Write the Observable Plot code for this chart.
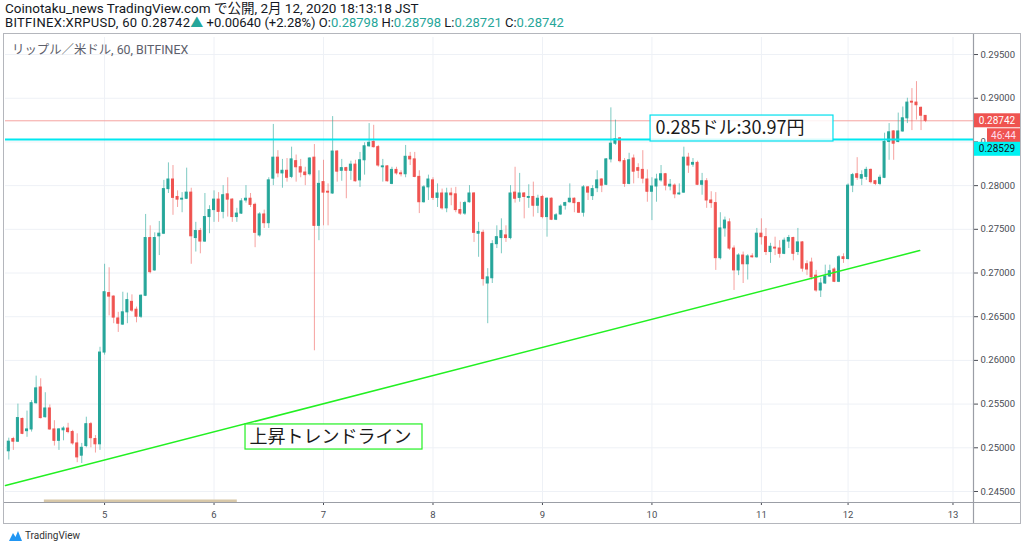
<!DOCTYPE html>
<html><head><meta charset="utf-8">
<script src="https://cdn.jsdelivr.net/npm/d3@7"></script>
<script src="https://cdn.jsdelivr.net/npm/@observablehq/plot@0.6"></script>
<style>
body{margin:0;background:#fff;width:1024px;height:552px;overflow:hidden;position:relative;font-family:Roboto,"Noto Sans CJK JP",sans-serif;}
#hdr{position:absolute;left:5px;top:1px;font-size:13px;line-height:14px;color:#131722;white-space:nowrap;}
#hdr .l1{font-size:13.5px;}
#hdr .l2a{letter-spacing:0.3px;}
#hdr .up{color:#26a69a}
#chart{position:absolute;left:0;top:31px;}
#border{position:absolute;left:3px;top:33px;width:1018px;height:491px;border:1.5px solid #b4b6bc;box-sizing:border-box;pointer-events:none}
#sym{position:absolute;left:12px;top:40px;font-size:12.4px;color:#5d606b;white-space:nowrap;}
#foot{position:absolute;left:9px;top:530px;font-size:10px;color:#333;display:flex;align-items:center;gap:3px;}
</style></head>
<body>
<div id="hdr"><span class="l1">Coinotaku_news TradingView.com で公開, 2月 12, 2020 18:13:18 JST</span><br><span class="l2a">BITFINEX:XRPUSD, 60 0.28742</span><span class="up">▲</span> +0.00640 (+2.28%) O:<span class="up">0.28798</span> H:<span class="up">0.28798</span> L:<span class="up">0.28721</span> C:<span class="up">0.28742</span></div>
<div id="chart"></div>
<div id="sym">リップル／米ドル, 60, BITFINEX</div>
<div id="border"></div>
<div id="foot"><svg width="13" height="11" viewBox="0 0 13 11"><path d="M0 11 L4 3 L6.5 7 L9 1 L13 11 Z" fill="#2196f3"/></svg><span>TradingView</span></div>
<script>
// hourly candles, index 0 = first bar shown
const open = [
0.2496,0.2510,0.2507,0.2533,0.2519,0.2521,0.2551,0.2569,0.2535,0.2545,
0.2521,0.2508,0.2520,0.2522,0.2518,0.2505,0.2491,0.2502,0.2527,0.2510,
0.2504,0.2609,0.2677,0.2673,0.2648,0.2641,0.2655,0.2667,0.2658,0.2650,
0.2674,0.2740,0.2703,0.2742,0.2745,0.2796,0.2807,0.2787,0.2784,0.2785,
0.2792,0.2740,0.2748,0.2736,0.2764,0.2772,0.2784,0.2770,0.2790,0.2784,
0.2764,0.2768,0.2783,0.2785,0.2778,0.2743,0.2767,0.2757,0.2808,0.2832,
0.2814,0.2817,0.2810,0.2828,0.2821,0.2815,0.2813,0.2832,0.2754,0.2804,
0.2793,0.2791,0.2839,0.2817,0.2820,0.2817,0.2824,0.2806,0.2829,0.2845,
0.2850,0.2844,0.2821,0.2822,0.2802,0.2818,0.2814,0.2813,0.2833,0.2830,
0.2810,0.2781,0.2798,0.2806,0.2786,0.2791,0.2774,0.2791,0.2790,0.2772,
0.2768,0.2781,0.2791,0.2745,0.2746,0.2688,0.2694,0.2733,0.2740,0.2743,
0.2740,0.2792,0.2786,0.2791,0.2786,0.2787,0.2777,0.2787,0.2764,0.2785,
0.2761,0.2767,0.2777,0.2781,0.2785,0.2780,0.2769,0.2798,0.2788,0.2797,
0.2807,0.2801,0.2830,0.2848,0.2854,0.2828,0.2802,0.2831,0.2820,0.2818,
0.2807,0.2793,0.2799,0.2806,0.2813,0.2799,0.2800,0.2790,0.2792,0.2832,
0.2824,0.2826,0.2801,0.2805,0.2783,0.2780,0.2717,0.2751,0.2758,0.2728,
0.2703,0.2720,0.2710,0.2719,0.2718,0.2745,0.2741,0.2724,0.2729,0.2728,
0.2722,0.2736,0.2740,0.2724,0.2735,0.2710,0.2712,0.2697,0.2680,0.2688,
0.2696,0.2704,0.2690,0.2718,0.2716,0.2800,0.2813,0.2808,0.2810,0.2818,
0.2805,0.2802,0.2809,0.2850,0.2862,0.2850,0.2862,0.2877,0.2896,0.2895,
0.2889,0.28798];
const high = [
0.2511,0.2512,0.2550,0.2534,0.2542,0.2554,0.2582,0.2579,0.2563,0.2549,
0.2531,0.2522,0.2524,0.2528,0.2520,0.2516,0.2505,0.2535,0.2529,0.2514,
0.2615,0.2710,0.2706,0.2674,0.2655,0.2678,0.2677,0.2675,0.2661,0.2675,
0.2767,0.2754,0.2746,0.2759,0.2806,0.2826,0.2823,0.2794,0.2792,0.2820,
0.2797,0.2758,0.2751,0.2791,0.2777,0.2794,0.2792,0.2800,0.2809,0.2785,
0.2774,0.2785,0.2800,0.2791,0.2780,0.2769,0.2772,0.2809,0.2870,0.2840,
0.2830,0.2831,0.2844,0.2835,0.2830,0.2821,0.2832,0.2847,0.2817,0.2829,
0.2802,0.2879,0.2840,0.2830,0.2821,0.2828,0.2829,0.2838,0.2849,0.2871,
0.2869,0.2846,0.2830,0.2823,0.2821,0.2821,0.2817,0.2846,0.2838,0.2838,
0.2817,0.2800,0.2812,0.2809,0.2802,0.2796,0.2797,0.2797,0.2798,0.2781,
0.2782,0.2800,0.2792,0.2758,0.2749,0.2705,0.2737,0.2754,0.2762,0.2754,
0.2800,0.2821,0.2814,0.2792,0.2801,0.2804,0.2789,0.2789,0.2786,0.2786,
0.2768,0.2778,0.2781,0.2802,0.2786,0.2781,0.2800,0.2799,0.2800,0.2817,
0.2808,0.2831,0.2889,0.2875,0.2855,0.2831,0.2837,0.2835,0.2825,0.2840,
0.2818,0.2809,0.2813,0.2823,0.2814,0.2807,0.2802,0.2802,0.2844,0.2837,
0.2831,0.2828,0.2814,0.2808,0.2793,0.2792,0.2769,0.2764,0.2762,0.2731,
0.2722,0.2724,0.2721,0.2722,0.2751,0.2762,0.2751,0.2734,0.2741,0.2737,
0.2740,0.2743,0.2741,0.2751,0.2736,0.2714,0.2717,0.2703,0.2694,0.2709,
0.2709,0.2706,0.2720,0.2722,0.2802,0.2814,0.2832,0.2817,0.2821,0.2819,
0.2806,0.2812,0.2860,0.2871,0.2863,0.2883,0.2890,0.2900,0.2911,0.2919,
0.2890,0.28798];
const low = [
0.2486,0.2497,0.2506,0.2515,0.2512,0.2518,0.2550,0.2533,0.2534,0.2520,
0.2502,0.2497,0.2508,0.2516,0.2503,0.2483,0.2482,0.2500,0.2500,0.2494,
0.2497,0.2606,0.2651,0.2642,0.2632,0.2640,0.2642,0.2655,0.2643,0.2648,
0.2673,0.2699,0.2702,0.2720,0.2744,0.2791,0.2766,0.2775,0.2769,0.2784,
0.2710,0.2724,0.2722,0.2735,0.2745,0.2758,0.2758,0.2762,0.2764,0.2758,
0.2758,0.2767,0.2780,0.2775,0.2729,0.2741,0.2751,0.2751,0.2800,0.2809,
0.2797,0.2804,0.2808,0.2804,0.2809,0.2800,0.2811,0.2611,0.2737,0.2754,
0.2754,0.2790,0.2804,0.2805,0.2785,0.2806,0.2804,0.2798,0.2812,0.2844,
0.2843,0.2821,0.2804,0.2804,0.2801,0.2812,0.2810,0.2809,0.2823,0.2809,
0.2768,0.2780,0.2783,0.2783,0.2775,0.2772,0.2769,0.2777,0.2769,0.2766,
0.2766,0.2780,0.2735,0.2718,0.2685,0.2642,0.2688,0.2728,0.2722,0.2735,
0.2738,0.2780,0.2781,0.2762,0.2774,0.2764,0.2768,0.2762,0.2741,0.2760,
0.2760,0.2766,0.2772,0.2780,0.2769,0.2768,0.2764,0.2783,0.2783,0.2792,
0.2792,0.2800,0.2826,0.2846,0.2826,0.2798,0.2801,0.2802,0.2808,0.2802,
0.2781,0.2760,0.2781,0.2804,0.2794,0.2794,0.2785,0.2789,0.2791,0.2814,
0.2821,0.2800,0.2789,0.2774,0.2774,0.2703,0.2715,0.2741,0.2726,0.2680,
0.2697,0.2688,0.2692,0.2717,0.2717,0.2732,0.2720,0.2711,0.2720,0.2717,
0.2721,0.2728,0.2714,0.2720,0.2701,0.2697,0.2692,0.2678,0.2672,0.2687,
0.2695,0.2689,0.2689,0.2711,0.2715,0.2792,0.2806,0.2800,0.2806,0.2802,
0.2800,0.2800,0.2808,0.2829,0.2829,0.2849,0.2861,0.2871,0.2863,0.2875,
0.2863,0.28721];
const close = [
0.2507,0.2507,0.2534,0.2516,0.2521,0.2551,0.2568,0.2534,0.2545,0.2521,
0.2508,0.2521,0.2522,0.2518,0.2505,0.2489,0.2500,0.2527,0.2511,0.2504,
0.2609,0.2678,0.2673,0.2649,0.2642,0.2655,0.2669,0.2657,0.2650,0.2674,
0.2740,0.2701,0.2740,0.2745,0.2796,0.2807,0.2786,0.2784,0.2785,0.2792,
0.2742,0.2748,0.2736,0.2764,0.2772,0.2784,0.2770,0.2789,0.2784,0.2764,
0.2768,0.2782,0.2785,0.2778,0.2746,0.2767,0.2757,0.2806,0.2832,0.2814,
0.2817,0.2809,0.2830,0.2821,0.2815,0.2812,0.2831,0.2754,0.2802,0.2792,
0.2792,0.2839,0.2816,0.2820,0.2817,0.2824,0.2805,0.2829,0.2845,0.2849,
0.2844,0.2823,0.2822,0.2805,0.2818,0.2814,0.2813,0.2833,0.2830,0.2810,
0.2781,0.2798,0.2807,0.2786,0.2791,0.2774,0.2791,0.2789,0.2772,0.2768,
0.2780,0.2791,0.2746,0.2747,0.2693,0.2695,0.2733,0.2741,0.2748,0.2740,
0.2791,0.2785,0.2791,0.2787,0.2787,0.2777,0.2785,0.2764,0.2785,0.2761,
0.2766,0.2776,0.2780,0.2785,0.2780,0.2769,0.2798,0.2792,0.2796,0.2806,
0.2800,0.2830,0.2848,0.2853,0.2828,0.2802,0.2829,0.2816,0.2817,0.2808,
0.2793,0.2799,0.2807,0.2813,0.2800,0.2801,0.2790,0.2791,0.2832,0.2823,
0.2826,0.2801,0.2805,0.2783,0.2780,0.2717,0.2751,0.2760,0.2728,0.2703,
0.2720,0.2710,0.2719,0.2718,0.2745,0.2741,0.2724,0.2730,0.2728,0.2722,
0.2737,0.2740,0.2722,0.2735,0.2705,0.2704,0.2695,0.2680,0.2688,0.2696,
0.2702,0.2690,0.2718,0.2716,0.2800,0.2812,0.2809,0.2812,0.2818,0.2804,
0.2802,0.2809,0.2850,0.2861,0.2848,0.2862,0.2877,0.2895,0.2895,0.2892,
0.2880,0.28742];

// day boundaries (bar index) and their labels
const dayTicks = [21, 45, 69, 93, 117, 141, 165, 184, 207];
const dayLabels = ["5", "6", "7", "8", "9", "10", "11", "12", "13"];
const priceTicks = [0.245, 0.25, 0.255, 0.26, 0.265, 0.27, 0.275, 0.28, 0.285, 0.29, 0.295];

// drawings
const lastPrice = 0.28742;
const levelPrice = 0.28529;
const trendLine = [{i: -0.72, p: 0.24569}, {i: 199.7, p: 0.27257}];
const levelBox = {i1: 140.7, i2: 180.8, p1: 0.28505, p2: 0.28802, text: "0.285ドル:30.97円"};
const trendBox = {i1: 51.9, i2: 90.7, p1: 0.24980, p2: 0.25267, text: "上昇トレンドライン"};
const rangeBar = {i1: 7.8, i2: 50.1, p: 0.24392};
const countdown = "46:44";

const UP = "#26a69a", DOWN = "#ef5350";
const bars = open.map((o, i) => ({i, o, h: high[i], l: low[i], c: close[i]}));
const ups = bars.filter(d => d.c >= d.o), downs = bars.filter(d => d.c < d.o);
const labelOf = new Map(dayTicks.map((t, k) => [t, dayLabels[k]]));
const bw = 0.22;

const chart = Plot.plot({
  width: 1024, height: 494,
  marginLeft: 5, marginRight: 51, marginTop: 6, marginBottom: 23,
  style: {fontFamily: "Roboto, sans-serif", fontSize: "9.5px", color: "#4a4d55", background: "#fff", overflow: "visible"},
  x: {domain: [-0.72, 211.5], ticks: dayTicks, tickFormat: d => labelOf.get(d), tickSize: 3, tickPadding: 6, label: null},
  y: {domain: [0.24374, 0.29695], axis: "right", ticks: priceTicks, tickFormat: d3.format(".5f"), tickSize: 4, tickPadding: 3, label: null},
  marks: [
    Plot.ruleY(priceTicks, {stroke: "#eef1f6"}),
    Plot.ruleX(dayTicks, {stroke: "#eef1f6"}),
    Plot.ruleY([lastPrice], {stroke: "#f5a3a1", strokeWidth: 1}),
    Plot.ruleX(ups, {x: "i", y1: "l", y2: "h", stroke: UP, strokeOpacity: 0.6}),
    Plot.ruleX(downs, {x: "i", y1: "l", y2: "h", stroke: DOWN, strokeOpacity: 0.55}),
    Plot.rect(ups, {x1: d => d.i - bw, x2: d => d.i + bw, y1: "o", y2: "c", fill: UP, stroke: UP, strokeWidth: 1}),
    Plot.rect(downs, {x1: d => d.i - bw, x2: d => d.i + bw, y1: "o", y2: "c", fill: DOWN, stroke: DOWN, strokeWidth: 1}),
    Plot.ruleY([levelPrice], {stroke: "#00e8f0", strokeWidth: 2}),
    Plot.line(trendLine, {x: "i", y: "p", stroke: "#22f022", strokeWidth: 1.5}),
    Plot.ruleY([rangeBar.p], {x1: rangeBar.i1, x2: rangeBar.i2, stroke: "#d7c7a8", strokeWidth: 3}),
    Plot.rect([levelBox], {x1: "i1", x2: "i2", y1: "p1", y2: "p2", fill: "#fff", fillOpacity: 0.85, stroke: "#00e0ee", strokeWidth: 1.2}),
    Plot.text([levelBox], {x: "i1", y: d => (d.p1 + d.p2) / 2, text: "text", dx: 5, textAnchor: "start", fontSize: 18, fill: "#1a1a1a", fontFamily: "'Noto Sans CJK JP', sans-serif"}),
    Plot.rect([trendBox], {x1: "i1", x2: "i2", y1: "p1", y2: "p2", fill: "#fff", fillOpacity: 0.85, stroke: "#22f022", strokeWidth: 1.2}),
    Plot.text([trendBox], {x: "i1", y: d => (d.p1 + d.p2) / 2, text: "text", dx: 4, textAnchor: "start", fontSize: 18, fill: "#1a1a1a", fontFamily: "'Noto Sans CJK JP', sans-serif"})
  ]
});
document.getElementById("chart").appendChild(chart);

// frame lines and price tags on the right axis
const svg = d3.select(chart);
const ys = chart.scale("y"), xs = chart.scale("x");
const bottom = ys.range[0], axisX = xs.range[1];
svg.append("line").attr("x1", 3).attr("x2", 1021).attr("y1", bottom + 0.5).attr("y2", bottom + 0.5).attr("stroke", "#9b9ea6").attr("stroke-width", 1.2);
svg.append("line").attr("x1", axisX + 0.5).attr("x2", axisX + 0.5).attr("y1", 2).attr("y2", 493).attr("stroke", "#9b9ea6").attr("stroke-width", 1.2);
function tag(cy, x0, w, bg, fg, txt) {
  svg.append("rect").attr("x", x0).attr("y", cy - 7).attr("width", w).attr("height", 14).attr("fill", bg);
  svg.append("text").attr("x", x0 + w / 2).attr("y", cy).attr("dy", "0.35em").attr("text-anchor", "middle")
    .attr("fill", fg).attr("font-size", "10px").attr("font-family", "Roboto, sans-serif").text(txt);
}
const yl = ys.apply(lastPrice);
tag(yl, axisX + 1, 46, DOWN, "#fff", d3.format(".5f")(lastPrice));
tag(yl + 15, axisX + 14, 33, DOWN, "#fde", countdown);
tag(yl + 28.5, axisX + 1, 46, "#00f2f2", "#131722", d3.format(".5f")(levelPrice));
</script>
</body></html>
